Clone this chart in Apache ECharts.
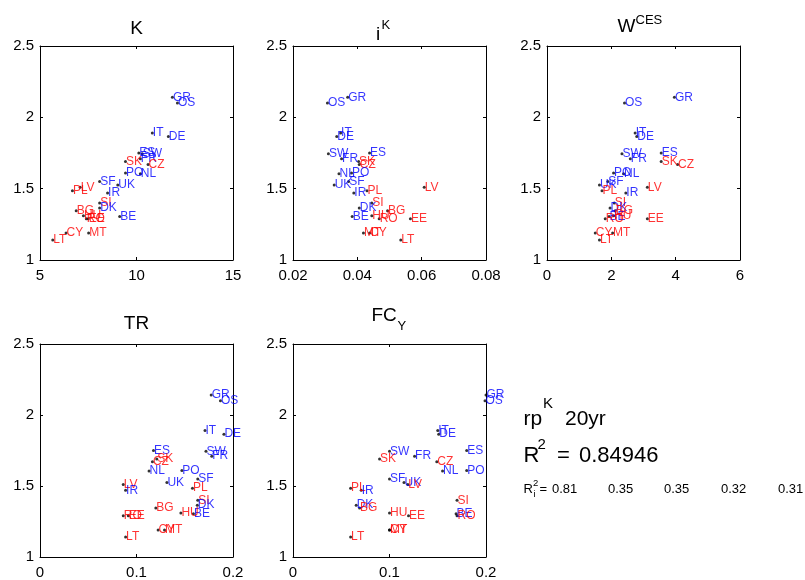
<!DOCTYPE html>
<html><head><meta charset="utf-8">
<script src="https://cdn.jsdelivr.net/npm/echarts@6/dist/echarts.min.js"></script>
<style>html,body{margin:0;padding:0;background:#fff}#c{width:805px;height:580px}</style>
</head><body><div id="c"></div>
<script>
// ---- data ----
const countries = ['GR','OS','IT','DE','ES','SW','FR','SK','CZ','PO','NL','SF','UK','LV','PL','IR','SI','DK','BG','BE','HU','RO','EE','MT','CY','LT'];
const isNew     = [0,0,0,0,0,0,0,1,1,0,0,0,0,1,1,0,1,0,1,0,1,1,1,1,1,1];
const rpK20     = [2.14,2.10,1.89,1.865,1.75,1.745,1.71,1.69,1.67,1.61,1.605,1.55,1.525,1.51,1.485,1.47,1.40,1.365,1.345,1.305,1.31,1.29,1.29,1.19,1.19,1.14];
const xK        = [11.86,12.12,10.82,11.65,10.12,10.3,10.2,9.43,10.6,9.43,10.2,8.09,9.03,7.08,6.68,8.5,8.09,8.09,6.875,9.13,7.25,7.4,7.5,7.52,6.35,5.66];
const xIK       = [0.0370,0.0307,0.0348,0.0336,0.0438,0.0310,0.0351,0.0404,0.0406,0.0382,0.0343,0.0373,0.0328,0.0608,0.0430,0.0389,0.0445,0.0406,0.0494,0.0384,0.0445,0.0468,0.0565,0.0419,0.0438,0.0535];
const xWCES     = [3.96,2.41,2.74,2.79,3.55,2.33,2.59,3.55,4.06,2.07,2.38,1.89,1.63,3.12,1.71,2.45,2.09,1.96,2.12,1.93,2.07,1.81,3.12,2.04,1.50,1.63];
const xTR       = [0.1774,0.187,0.171,0.1906,0.1176,0.172,0.178,0.121,0.1165,0.147,0.113,0.1635,0.1315,0.0863,0.158,0.0887,0.1635,0.163,0.120,0.159,0.146,0.0863,0.0915,0.129,0.1224,0.0887];
const xFCY      = [0.200,0.199,0.150,0.151,0.180,0.100,0.126,0.0897,0.149,0.180,0.155,0.100,0.115,0.119,0.0597,0.0707,0.170,0.0655,0.069,0.169,0.100,0.170,0.1197,0.100,0.100,0.0597];
const xMin  = [5, 0.02, 0, 0, 0];
const xMax  = [15, 0.08, 6, 0.2, 0.2];
const xStep = [5, 0.02, 2, 0.1, 0.1];
const yMin = 1, yMax = 2.5, yStep = 0.5;
const r2All = '0.84946';
const r2Each = ['0.81','0.35','0.35','0.32','0.31'];

// ---- layout ----
const FONT = '"Liberation Sans", Arial, Helvetica, sans-serif';
const grids = [
  {left:40,  top:46,  width:193, height:214},
  {left:293, top:46,  width:193, height:214},
  {left:547, top:46,  width:193, height:214},
  {left:40,  top:344, width:193, height:215},
  {left:293, top:344, width:193, height:215}
];
const xSeries = [xK, xIK, xWCES, xTR, xFCY];
const xAxes = [], yAxes = [], series = [];
grids.forEach((g, i) => {
  const base = {
    type:'value', gridIndex:i,
    axisLine:{show:true, onZero:false, lineStyle:{color:'#000', width:1}},
    axisTick:{show:true, inside:true, length:3, lineStyle:{color:'#000', width:1}},
    splitLine:{show:false}
  };
  xAxes.push(Object.assign({}, base, {position:'bottom', min:xMin[i], max:xMax[i], interval:xStep[i],
    axisLabel:{show:true, color:'#000', fontSize:15, fontFamily:FONT, margin:8}}));
  xAxes.push(Object.assign({}, base, {position:'top', min:xMin[i], max:xMax[i], interval:xStep[i],
    axisLabel:{show:false}}));
  yAxes.push(Object.assign({}, base, {position:'left', min:yMin, max:yMax, interval:yStep,
    axisLabel:{show:true, color:'#000', fontSize:15, fontFamily:FONT, margin:6}}));
  yAxes.push(Object.assign({}, base, {position:'right', min:yMin, max:yMax, interval:yStep,
    axisLabel:{show:false}}));
  series.push({
    type:'scatter', xAxisIndex:2*i, yAxisIndex:2*i, symbol:'circle', symbolSize:3,
    clip:false, itemStyle:{color:'#000'},
    label:{show:true, formatter:'{b}', position:[2,1.5], align:'left', verticalAlign:'middle',
      fontSize:12, fontFamily:FONT},
    emphasis:{disabled:true},
    data: countries.map((c, k) => ({
      name:c, value:[xSeries[i][k], rpK20[k]],
      label:{color: isNew[k] ? '#ff0000' : '#0000ff'}
    }))
  });
});

function txt(x, y, s, fs, align) {
  return {type:'text', x:x, y:y, silent:true, style:{
    text:s, fontSize:fs, fontFamily:FONT, fill:'#000',
    textAlign: align || 'left', align: align || 'left',
    textVerticalAlign:'middle', verticalAlign:'middle'}};
}
const graphics = [
  txt(136.5, 28.7, 'K', 19, 'center'),
  txt(376, 34.5, 'i', 19), txt(381.5, 25.8, 'K', 13),
  txt(617.5, 26.7, 'W', 19), txt(635.5, 20.3, 'CES', 13),
  txt(136.5, 324, 'TR', 19, 'center'),
  txt(371.5, 315.7, 'FC', 19), txt(397.5, 326.7, 'Y', 13),
  txt(523.5, 419, 'rp', 21), txt(543, 404, 'K', 15), txt(565, 419, '20yr', 21),
  txt(523.5, 456, 'R', 22), txt(537.5, 444.8, '2', 15), txt(557, 456, '=', 22), txt(579, 456, r2All, 22),
  txt(523.5, 489, 'R', 13), txt(533, 483.5, '2', 9.5), txt(533.5, 494.5, 'i', 9.5), txt(539.5, 489, '=', 13)
];
const r2x = [552, 608, 664, 721, 778];
r2Each.forEach((v, i) => graphics.push(txt(r2x[i], 489, v, 13)));

const chart = echarts.init(document.getElementById('c'));
chart.setOption({
  animation:false,
  backgroundColor:'#fff',
  grid: grids,
  xAxis: xAxes,
  yAxis: yAxes,
  series: series,
  graphic: graphics
});
</script></body></html>
